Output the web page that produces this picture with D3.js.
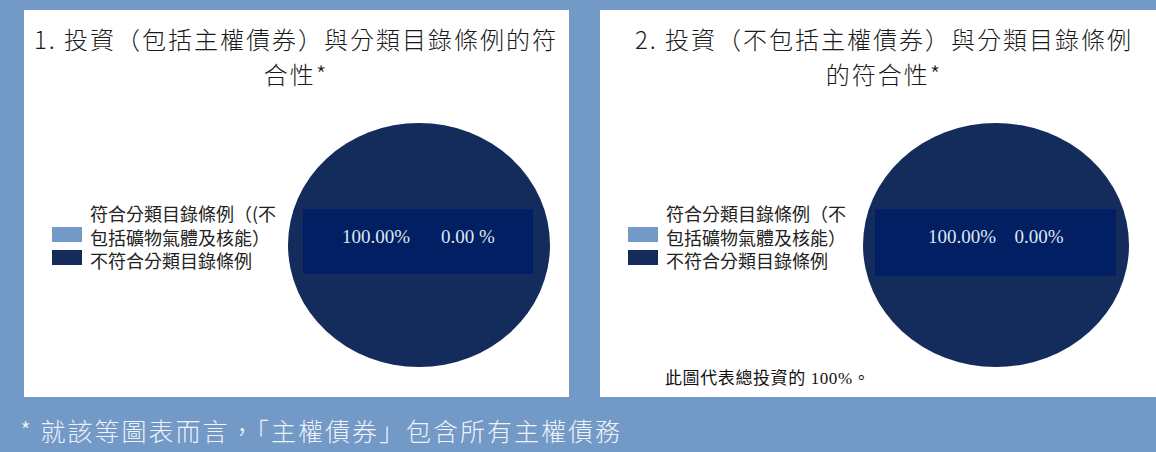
<!DOCTYPE html>
<html lang="zh-Hant">
<head>
<meta charset="UTF-8">
<title>Taxonomy alignment</title>
<script src="https://cdnjs.cloudflare.com/ajax/libs/d3/7.8.5/d3.min.js"></script>
<style>
  body { margin: 0; background: #7399c6; }
  svg text { font-family: "Noto Sans CJK TC", sans-serif; }
  .num { font-family: "Liberation Serif", "Noto Sans CJK TC", serif !important; }
</style>
</head>
<body>
<svg id="chart" width="1156" height="452"></svg>
<script>
// data
var categories = ["符合分類目錄條例（不包括礦物氣體及核能）", "不符合分類目錄條例"];
var values1 = [0, 100];
var values2 = [0, 100];
var titles1 = ["1. 投資（包括主權債券）與分類目錄條例的符", "合性*"];
var titles2 = ["2. 投資（不包括主權債券）與分類目錄條例", "的符合性*"];
var legendLines1 = ["符合分類目錄條例（(不", "包括礦物氣體及核能）", "不符合分類目錄條例"];
var legendLines2 = ["符合分類目錄條例（不", "包括礦物氣體及核能）", "不符合分類目錄條例"];
var valueLabels1 = ["100.00%", "0.00 %"];
var valueLabels2 = ["100.00%", "0.00%"];
var note2 = "此圖代表總投資的 100%。";
var footnote = "* 就該等圖表而言，「主權債券」包含所有主權債務";

var svg = d3.select("#chart");

var colour = d3.scaleOrdinal()
  .domain(categories)
  .range(["#7399c6", "#132c5c"]);

var panels = [
  { x: 24, y: 10, w: 545, h: 387, titleX: 296, values: values1, titles: titles1,
    legend: legendLines1, labels: valueLabels1, cx: 419, cy: 245, rx: 131, ry: 122,
    box: [303, 209, 230, 65], labelX: [376, 468], legX: 52 },
  { x: 600, y: 10, w: 556, h: 387, titleX: 884, values: values2, titles: titles2,
    legend: legendLines2, labels: valueLabels2, cx: 996, cy: 245, rx: 133, ry: 122,
    box: [875, 209, 241, 67], labelX: [962, 1039], legX: 628 }
];

var pie = d3.pie().sort(null);
var arc = d3.arc().innerRadius(0).outerRadius(1);

panels.forEach(function(p) {
  var g = svg.append("g");

  g.append("rect")
    .attr("x", p.x).attr("y", p.y)
    .attr("width", p.w).attr("height", p.h)
    .attr("fill", "#ffffff");

  g.selectAll("text.title")
    .data(p.titles)
    .enter()
    .append("text")
    .attr("class", "title")
    .attr("x", p.titleX)
    .attr("y", (d, i) => 49 + i * 35)
    .attr("text-anchor", "middle")
    .attr("font-size", 24)
    .attr("letter-spacing", 2)
    .attr("font-weight", 300)
    .attr("fill", "#1a1a1a")
    .text(d => d);

  // pie, stretched a little in x like the original
  g.append("g")
    .attr("transform", "translate(" + p.cx + "," + p.cy + ") scale(" + p.rx + "," + p.ry + ")")
    .selectAll("path")
    .data(pie(p.values))
    .enter()
    .append("path")
    .attr("d", arc)
    .attr("fill", (d, i) => colour(categories[i]));

  g.append("rect")
    .attr("x", p.box[0]).attr("y", p.box[1])
    .attr("width", p.box[2]).attr("height", p.box[3])
    .attr("fill", "#011f62");

  g.selectAll("text.val")
    .data(p.labels)
    .enter()
    .append("text")
    .attr("class", "val num")
    .attr("x", (d, i) => p.labelX[i])
    .attr("y", 243)
    .attr("text-anchor", "middle")
    .attr("font-size", 19)
    .attr("fill", "#dfe6f2")
    .text(d => d);

  // legend
  g.selectAll("rect.sw")
    .data(categories)
    .enter()
    .append("rect")
    .attr("class", "sw")
    .attr("x", p.legX)
    .attr("y", (d, i) => 227 + i * 23)
    .attr("width", 30).attr("height", 15)
    .attr("fill", d => colour(d));

  g.selectAll("text.leg")
    .data(p.legend)
    .enter()
    .append("text")
    .attr("class", "leg")
    .attr("x", p.legX + 38)
    .attr("y", (d, i) => 221 + i * 23.5)
    .attr("font-size", 18)
    .attr("fill", "#222")
    .text(d => d);
});

svg.append("text")
  .attr("class", "num")
  .attr("x", 665)
  .attr("y", 384)
  .attr("font-size", 17)
  .attr("letter-spacing", 0.6)
  .attr("fill", "#111")
  .text(note2);

svg.append("text")
  .attr("x", 20)
  .attr("y", 441)
  .attr("font-size", 25)
  .attr("letter-spacing", 2)
  .attr("font-weight", 300)
  .attr("fill", "#eef2f9")
  .text(footnote);
</script>
</body>
</html>
